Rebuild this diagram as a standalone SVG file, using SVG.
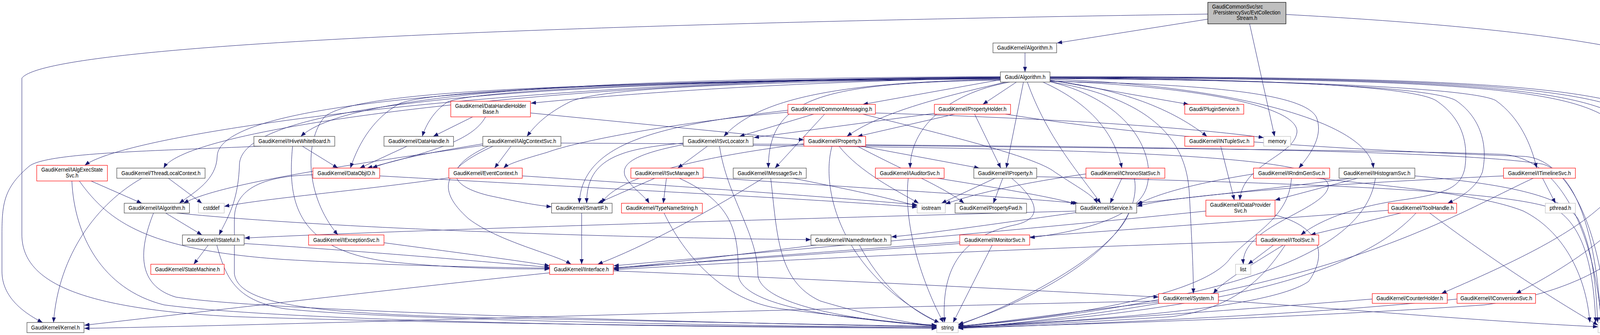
<svg xmlns="http://www.w3.org/2000/svg" width="4380" height="857" viewBox="0 0 4380 857">
<style>
.n rect{fill:#ffffff;stroke:#404040;stroke-width:1.2}
.r rect{stroke:#ff0000}
.g rect{stroke:#bfbfbf}
text{font-family:"Liberation Sans",Arial,Helvetica,sans-serif;font-size:15px;text-anchor:middle;fill:#000000}
#edges path{fill:none;stroke:#191970;stroke-width:1;marker-end:url(#a)}
</style>
<defs>
<marker id="a" viewBox="0 0 13 10" refX="13" refY="5" markerWidth="13" markerHeight="10" markerUnits="userSpaceOnUse" orient="auto"><path d="M0,0 L13,5 L0,10 Z" fill="#191970"/></marker>
</defs>
<rect width="4380" height="857" fill="#ffffff"/>
<g id="edges">
<path d="M3092,49 L2706,110"/>
<path d="M3199,61 L3263,349"/>
<path d="M3092,36 C1500,60 120,110 56,200 L56,600 C56,720 200,790 600,810 C1200,830 2000,836 2398,838"/>
<path d="M3292,37 C3900,70 4374,130 4374,230 L4374,700 C4374,790 4250,825 4151,836"/>
<path d="M2624,135 L2624,184"/>
<path d="M2561,198 C1389,198 337,333 217,423"/>
<path d="M2561,199 C1490,199 479,320 419,430"/>
<path d="M2561,200 C1300,205 560,260 556,400 C554,460 500,490 459,520"/>
<path d="M2561,201 C1300,207 620,270 613,420 C610,520 580,560 561,601"/>
<path d="M2561,196 C1600,200 900,230 770,349"/>
<path d="M2561,197 C1700,205 1100,230 1023,265 C960,300 920,360 897,430"/>
<path d="M2561,198 C1800,205 1200,230 1144,262 C1110,285 1090,320 1081,349"/>
<path d="M2561,199 C2000,210 1600,240 1359,264"/>
<path d="M2561,200 C2000,210 1550,220 1460,260 C1400,290 1370,320 1349,349"/>
<path d="M2561,202 C1500,210 900,230 830,300 C780,360 780,500 865,601"/>
<path d="M2561,203 C2200,210 1950,240 1853,349"/>
<path d="M2561,204 L2209,267"/>
<path d="M2561,205 C2100,212 1967,250 1967,430"/>
<path d="M2575,210 C2400,250 2250,290 2168,349"/>
<path d="M2602,210 L2516,267"/>
<path d="M2585,210 C2420,240 2330,330 2330,430"/>
<path d="M2620,210 L2576,430"/>
<path d="M2630,210 C2680,350 2760,440 2818,520"/>
<path d="M2670,210 C2780,260 2850,330 2872,430"/>
<path d="M2688,205 L3043,267"/>
<path d="M2688,206 C2850,225 2990,270 3090,349"/>
<path d="M2688,207 C3050,220 3330,270 3320,340 C3310,400 3180,420 3174,512"/>
<path d="M2688,208 C3100,215 3340,240 3370,300 C3390,350 3350,400 3325,430"/>
<path d="M2688,203 C3100,215 3500,300 3516,430"/>
<path d="M2688,201 C3400,205 3780,230 3829,257 C3890,300 3920,370 3934,430"/>
<path d="M2688,200 C3400,205 3680,230 3727,257 C3790,300 3810,370 3795,440 C3780,480 3740,505 3706,520"/>
<path d="M2688,199 C3400,203 3630,230 3676,257 C3740,300 3760,360 3750,430 C3740,480 3700,495 3600,510 C3450,530 3370,570 3330,601"/>
<path d="M2688,209 C3000,260 3040,400 3045,500 C3050,600 3055,680 3055,751"/>
<path d="M2688,199 C3900,202 4168,230 4170,400 C4172,540 3900,660 3690,751"/>
<path d="M2688,198 C3950,200 4222,230 4222,420 C4222,560 4000,690 3881,751"/>
<path d="M2688,197 C4000,199 4273,230 4273,420 C4273,600 4100,740 3800,780 C3300,815 2700,832 2453,838"/>
<path d="M2688,196 C4050,197 4324,230 4324,430 L4324,720 C4324,790 4230,825 4151,833"/>
<path d="M2688,209 C2900,260 2960,400 2935,480 C2910,560 2750,595 2636,608"/>
<path d="M2083,292 L1893,349"/>
<path d="M2111,292 L1984,430"/>
<path d="M2017,287 C1750,310 1480,360 1400,390 C1330,410 1300,420 1289,430"/>
<path d="M2241,289 C2600,300 3000,320 3235,352"/>
<path d="M2209,292 C2400,340 2650,400 2700,440 C2760,480 2800,500 2809,520"/>
<path d="M2017,282 C1700,320 1490,360 1483,520"/>
<path d="M2392,290 L1930,352"/>
<path d="M2444,292 L2195,349"/>
<path d="M2495,292 L2562,430"/>
<path d="M2574,292 C3000,360 3500,385 3900,400 C4020,405 4100,600 4112,825"/>
<path d="M2205,374 L2507,430"/>
<path d="M2195,374 C2300,430 2420,480 2468,520"/>
<path d="M2130,374 C2100,480 2150,700 2405,826"/>
<path d="M2148,374 C2200,440 2300,490 2352,520"/>
<path d="M2058,368 C1800,400 1580,450 1540,520"/>
<path d="M2216,372 C3000,380 3600,385 3850,395 C4000,410 4080,600 4100,825"/>
<path d="M1811,374 L1735,430"/>
<path d="M1749,366 C1600,380 1500,400 1502,520"/>
<path d="M1749,370 C1620,395 1590,420 1600,450 C1615,480 1650,500 1662,520"/>
<path d="M1842,374 C1860,500 1940,600 1940,700 C1940,790 2250,825 2398,834"/>
<path d="M1928,372 C2900,382 3420,400 3400,480 C3385,540 3175,580 3183,676"/>
<path d="M1308,374 L1266,430"/>
<path d="M1236,368 C1100,390 1000,410 953,430"/>
<path d="M1250,374 C1150,420 1130,470 1250,500 C1320,515 1370,525 1412,529"/>
<path d="M1262,374 C1140,430 1110,480 1200,560 C1280,620 1420,650 1462,676"/>
<path d="M1436,366 C2600,372 3700,378 3950,420 C4050,450 4090,650 4098,825"/>
<path d="M1236,372 C900,420 560,470 470,520"/>
<path d="M801,447 C700,450 600,470 600,560 L600,700 C610,780 800,800 1200,812 C1800,824 2200,832 2398,835"/>
<path d="M972,450 C1500,480 2100,510 2348,530"/>
<path d="M1042,374 L921,430"/>
<path d="M1210,299 L1109,349"/>
<path d="M1243,299 C1210,360 1100,390 940,430"/>
<path d="M1358,289 L2058,358"/>
<path d="M774,374 L865,430"/>
<path d="M668,374 C400,386 120,390 75,425 C10,480 5,520 5,600 L5,694 C5,760 60,800 109,825"/>
<path d="M749,374 C735,520 760,640 1000,670 C1200,690 1350,688 1407,688"/>
<path d="M363,456 C250,520 150,650 137,825"/>
<path d="M431,456 L517,520"/>
<path d="M233,463 L363,520"/>
<path d="M184,463 C190,600 260,740 420,780 C800,830 2000,838 2398,840"/>
<path d="M203,463 C280,570 380,640 730,664 C1000,680 1300,685 1407,686"/>
<path d="M424,545 L517,601"/>
<path d="M393,545 C355,640 350,730 450,760 C700,800 2000,830 2398,836"/>
<path d="M452,545 C900,590 1700,610 2076,613"/>
<path d="M533,627 L496,676"/>
<path d="M625,623 C900,640 1250,670 1407,684"/>
<path d="M555,627 C580,720 610,770 730,790 C1000,820 2000,835 2398,838"/>
<path d="M2754,540 C2000,560 1000,590 626,609"/>
<path d="M2754,544 C2600,565 2400,595 2282,606"/>
<path d="M2890,545 C2850,650 2600,780 2453,832"/>
<path d="M2090,627 C1900,650 1700,675 1571,686"/>
<path d="M2200,627 C2250,720 2320,790 2405,826"/>
<path d="M1570,693 C2000,710 2600,740 2966,760"/>
<path d="M1407,698 C1000,740 500,800 216,832"/>
<path d="M2966,770 C2000,790 800,830 216,840"/>
<path d="M2966,773 C2800,790 2600,820 2453,835"/>
<path d="M3119,768 C3500,795 3800,822 4091,836"/>
<path d="M1489,545 L1489,676"/>
<path d="M1700,545 C1750,650 1850,770 2000,790 C2200,815 2350,830 2398,834"/>
<path d="M1676,456 L1530,520"/>
<path d="M1706,456 L1698,520"/>
<path d="M1739,456 C1880,520 1890,600 1890,700 C1890,790 2200,820 2398,832"/>
<path d="M1797,453 C2200,480 2600,505 2760,520"/>
<path d="M1953,456 C1800,550 1650,630 1530,676"/>
<path d="M1973,456 C1990,600 1990,720 2100,770 C2250,815 2350,830 2398,833"/>
<path d="M2030,456 C2150,480 2250,500 2348,527"/>
<path d="M1149,455 C900,490 700,505 574,528"/>
<path d="M1337,450 C1800,480 2200,510 2348,524"/>
<path d="M983,621 C1200,650 1350,670 1407,680"/>
<path d="M2400,456 C2550,480 2700,505 2754,522"/>
<path d="M2325,456 C2310,600 2380,760 2415,825"/>
<path d="M2547,456 L2410,520"/>
<path d="M2567,456 L2543,520"/>
<path d="M2590,456 C2665,520 2665,560 2600,575 C2450,605 2410,700 2418,825"/>
<path d="M2654,452 C3400,470 3900,490 3990,540 C4060,590 4080,700 4085,825"/>
<path d="M2872,456 L2842,520"/>
<path d="M2780,445 C2600,470 2480,500 2420,522"/>
<path d="M2904,456 C2930,600 2700,750 2453,830"/>
<path d="M3209,445 C3050,470 2950,500 2911,524"/>
<path d="M3306,456 C3300,560 3200,600 3150,660 C3080,760 2700,815 2453,834"/>
<path d="M3370,456 C3600,480 3800,500 3900,540 C4000,590 4060,700 4070,825"/>
<path d="M3475,456 L3264,512"/>
<path d="M3460,456 C3200,490 3000,510 2911,520"/>
<path d="M3521,456 C3500,600 3300,760 2453,836"/>
<path d="M3622,450 C3850,470 4000,500 4040,560 C4070,620 4085,700 4090,825"/>
<path d="M3125,374 L3160,512"/>
<path d="M3087,540 C2600,590 1900,650 1571,680"/>
<path d="M3264,550 C3380,580 3400,650 3350,720 C3250,790 2800,820 2453,836"/>
<path d="M3586,545 L3355,601"/>
<path d="M3625,545 C3500,680 3200,790 2453,838"/>
<path d="M3660,545 C3800,650 3950,750 4091,832"/>
<path d="M3554,538 C3000,580 2000,650 1571,688"/>
<path d="M3260,627 L3195,676"/>
<path d="M3285,627 C3200,680 3130,720 3106,751"/>
<path d="M3290,627 C3230,720 3150,790 3000,810 C2700,830 2500,835 2453,836"/>
<path d="M3216,617 C2500,640 1900,670 1571,690"/>
<path d="M3949,456 L3982,520"/>
<path d="M3925,456 C3700,560 3400,760 2453,840"/>
<path d="M3849,450 C3400,470 3000,500 2911,528"/>
<path d="M3513,765 C3200,790 2800,820 2453,838"/>
<path d="M3730,765 C3400,800 2900,825 2453,840"/>
<path d="M2540,627 L2440,825"/>
<path d="M2457,623 C2100,650 1800,670 1571,685"/>
</g>
<g id="root" class="n"><rect x="3092" y="6" width="200" height="55" style="fill:#bfbfbf;stroke:#000000"/><text x="3103" y="21.5" style="text-anchor:start" textLength="130" lengthAdjust="spacingAndGlyphs">GaudiCommonSvc/src</text><text x="3192" y="36.5" textLength="172" lengthAdjust="spacingAndGlyphs">/PersistencySvc/EvtCollection</text><text x="3192" y="50.5" textLength="53" lengthAdjust="spacingAndGlyphs">Stream.h</text></g>
<g id="alg" class="n"><rect x="2542" y="110" width="163" height="25"/><text x="2623.5" y="127" textLength="141.6" lengthAdjust="spacingAndGlyphs">GaudiKernel/Algorithm.h</text></g>
<g id="galg" class="n"><rect x="2561" y="184" width="127" height="26"/><text x="2624.5" y="201.5" textLength="104" lengthAdjust="spacingAndGlyphs">Gaudi/Algorithm.h</text></g>
<g id="dhhb" class="n r"><rect x="1154" y="259" width="204" height="40"/><text x="1256" y="275.5" textLength="181.5" lengthAdjust="spacingAndGlyphs">GaudiKernel/DataHandleHolder</text><text x="1256" y="290.5" textLength="40.5" lengthAdjust="spacingAndGlyphs">Base.h</text></g>
<g id="cmsg" class="n r"><rect x="2017" y="267" width="224" height="25"/><text x="2129" y="284" textLength="207.5" lengthAdjust="spacingAndGlyphs">GaudiKernel/CommonMessaging.h</text></g>
<g id="phold" class="n r"><rect x="2392" y="267" width="195" height="25"/><text x="2489.5" y="284" textLength="174" lengthAdjust="spacingAndGlyphs">GaudiKernel/PropertyHolder.h</text></g>
<g id="plugin" class="n r"><rect x="3033" y="267" width="151" height="25"/><text x="3108.5" y="284" textLength="128.6" lengthAdjust="spacingAndGlyphs">Gaudi/PluginService.h</text></g>
<g id="hive" class="n"><rect x="650" y="349" width="207" height="25"/><text x="753.5" y="366" textLength="184" lengthAdjust="spacingAndGlyphs">GaudiKernel/IHiveWhiteBoard.h</text></g>
<g id="dhandle" class="n"><rect x="983" y="349" width="178" height="25"/><text x="1072" y="366" textLength="155.4" lengthAdjust="spacingAndGlyphs">GaudiKernel/DataHandle.h</text></g>
<g id="algctx" class="n"><rect x="1236" y="349" width="200" height="25"/><text x="1336" y="366" textLength="175.6" lengthAdjust="spacingAndGlyphs">GaudiKernel/IAlgContextSvc.h</text></g>
<g id="svcloc" class="n"><rect x="1749" y="349" width="179" height="25"/><text x="1838.5" y="366" textLength="155.4" lengthAdjust="spacingAndGlyphs">GaudiKernel/ISvcLocator.h</text></g>
<g id="prop" class="n r"><rect x="2058" y="349" width="158" height="25"/><text x="2137" y="366" textLength="135.8" lengthAdjust="spacingAndGlyphs">GaudiKernel/Property.h</text></g>
<g id="ntuple" class="n r"><rect x="3033" y="349" width="177" height="25"/><text x="3121.5" y="366" textLength="153.9" lengthAdjust="spacingAndGlyphs">GaudiKernel/INTupleSvc.h</text></g>
<g id="memory" class="n g"><rect x="3235" y="349" width="69" height="25"/><text x="3269.5" y="366" textLength="46.9" lengthAdjust="spacingAndGlyphs">memory</text></g>
<g id="execst" class="n r"><rect x="94" y="423" width="181" height="40"/><text x="184.5" y="439" textLength="157.5" lengthAdjust="spacingAndGlyphs">GaudiKernel/IAlgExecState</text><text x="184.5" y="454" textLength="32.5" lengthAdjust="spacingAndGlyphs">Svc.h</text></g>
<g id="tlc" class="n"><rect x="299" y="430" width="226" height="26"/><text x="412" y="447.5" textLength="202.4" lengthAdjust="spacingAndGlyphs">GaudiKernel/ThreadLocalContext.h</text></g>
<g id="dobj" class="n r"><rect x="801" y="430" width="171" height="26"/><text x="886.5" y="447.5" textLength="147.4" lengthAdjust="spacingAndGlyphs">GaudiKernel/DataObjID.h</text></g>
<g id="evctx" class="n r"><rect x="1149" y="430" width="188" height="26"/><text x="1243" y="447.5" textLength="164.7" lengthAdjust="spacingAndGlyphs">GaudiKernel/EventContext.h</text></g>
<g id="svcmgr" class="n r"><rect x="1615" y="430" width="185" height="26"/><text x="1707.5" y="447.5" textLength="163.3" lengthAdjust="spacingAndGlyphs">GaudiKernel/ISvcManager.h</text></g>
<g id="msgsvc" class="n"><rect x="1877" y="430" width="187" height="26"/><text x="1970.5" y="447.5" textLength="164.7" lengthAdjust="spacingAndGlyphs">GaudiKernel/IMessageSvc.h</text></g>
<g id="audit" class="n r"><rect x="2241" y="430" width="176" height="26"/><text x="2329" y="447.5" textLength="153.2" lengthAdjust="spacingAndGlyphs">GaudiKernel/IAuditorSvc.h</text></g>
<g id="iprop" class="n"><rect x="2493" y="430" width="161" height="26"/><text x="2573.5" y="447.5" textLength="139.5" lengthAdjust="spacingAndGlyphs">GaudiKernel/IProperty.h</text></g>
<g id="chrono" class="n r"><rect x="2780" y="430" width="202" height="26"/><text x="2881" y="447.5" textLength="177.7" lengthAdjust="spacingAndGlyphs">GaudiKernel/IChronoStatSvc.h</text></g>
<g id="rndm" class="n r"><rect x="3209" y="430" width="195" height="26"/><text x="3306.5" y="447.5" textLength="171.2" lengthAdjust="spacingAndGlyphs">GaudiKernel/IRndmGenSvc.h</text></g>
<g id="histo" class="n"><rect x="3428" y="430" width="194" height="26"/><text x="3525" y="447.5" textLength="171.2" lengthAdjust="spacingAndGlyphs">GaudiKernel/IHistogramSvc.h</text></g>
<g id="timeline" class="n r"><rect x="3849" y="430" width="184" height="26"/><text x="3941" y="447.5" textLength="161.1" lengthAdjust="spacingAndGlyphs">GaudiKernel/ITimelineSvc.h</text></g>
<g id="ialg" class="n"><rect x="318" y="520" width="167" height="25"/><text x="401.5" y="537" textLength="145.2" lengthAdjust="spacingAndGlyphs">GaudiKernel/IAlgorithm.h</text></g>
<g id="cstddef" class="n g"><rect x="508" y="520" width="66" height="25"/><text x="541" y="537" textLength="41.9" lengthAdjust="spacingAndGlyphs">cstddef</text></g>
<g id="smartif" class="n"><rect x="1412" y="520" width="155" height="25"/><text x="1489.5" y="537" textLength="132.9" lengthAdjust="spacingAndGlyphs">GaudiKernel/SmartIF.h</text></g>
<g id="tns" class="n r"><rect x="1591" y="520" width="207" height="25"/><text x="1694.5" y="537" textLength="184.2" lengthAdjust="spacingAndGlyphs">GaudiKernel/TypeNameString.h</text></g>
<g id="iostream" class="n g"><rect x="2348" y="520" width="72" height="25"/><text x="2384" y="537" textLength="49.8" lengthAdjust="spacingAndGlyphs">iostream</text></g>
<g id="propfwd" class="n"><rect x="2445" y="520" width="183" height="25"/><text x="2536.5" y="537" textLength="160.4" lengthAdjust="spacingAndGlyphs">GaudiKernel/PropertyFwd.h</text></g>
<g id="isvc" class="n"><rect x="2754" y="520" width="156" height="25"/><text x="2832" y="537" textLength="133.7" lengthAdjust="spacingAndGlyphs">GaudiKernel/IService.h</text></g>
<g id="dps" class="n r"><rect x="3087" y="512" width="177" height="41"/><text x="3175.5" y="529" textLength="155.3" lengthAdjust="spacingAndGlyphs">GaudiKernel/IDataProvider</text><text x="3175.5" y="543.5" textLength="32.5" lengthAdjust="spacingAndGlyphs">Svc.h</text></g>
<g id="toolh" class="n r"><rect x="3554" y="520" width="175" height="25"/><text x="3641.5" y="537" textLength="160.4" lengthAdjust="spacingAndGlyphs">GaudiKernel/ToolHandle.h</text></g>
<g id="pthread" class="n g"><rect x="3956" y="520" width="77" height="25"/><text x="3994.5" y="537" textLength="54.9" lengthAdjust="spacingAndGlyphs">pthread.h</text></g>
<g id="istate" class="n"><rect x="467" y="601" width="158" height="26"/><text x="546" y="618.5" textLength="134.4" lengthAdjust="spacingAndGlyphs">GaudiKernel/IStateful.h</text></g>
<g id="iexc" class="n r"><rect x="790" y="601" width="193" height="26"/><text x="886.5" y="618.5" textLength="169.1" lengthAdjust="spacingAndGlyphs">GaudiKernel/IExceptionSvc.h</text></g>
<g id="inamed" class="n"><rect x="2076" y="601" width="205" height="26"/><text x="2178.5" y="618.5" textLength="182.8" lengthAdjust="spacingAndGlyphs">GaudiKernel/INamedInterface.h</text></g>
<g id="imon" class="n r"><rect x="2457" y="601" width="179" height="26"/><text x="2546.5" y="618.5" textLength="155.4" lengthAdjust="spacingAndGlyphs">GaudiKernel/IMonitorSvc.h</text></g>
<g id="itool" class="n r"><rect x="3216" y="601" width="160" height="26"/><text x="3296" y="618.5" textLength="137.3" lengthAdjust="spacingAndGlyphs">GaudiKernel/IToolSvc.h</text></g>
<g id="sm" class="n r"><rect x="386" y="676" width="188" height="26"/><text x="480" y="693.5" textLength="166.2" lengthAdjust="spacingAndGlyphs">GaudiKernel/StateMachine.h</text></g>
<g id="iif" class="n r"><rect x="1407" y="676" width="163" height="26"/><text x="1488.5" y="693.5" textLength="140.9" lengthAdjust="spacingAndGlyphs">GaudiKernel/IInterface.h</text></g>
<g id="list" class="n g"><rect x="3163" y="676" width="39" height="26"/><text x="3182.5" y="693.5" textLength="15.9" lengthAdjust="spacingAndGlyphs">list</text></g>
<g id="system" class="n r"><rect x="2966" y="751" width="153" height="25"/><text x="3042.5" y="768" textLength="130" lengthAdjust="spacingAndGlyphs">GaudiKernel/System.h</text></g>
<g id="counter" class="n r"><rect x="3513" y="751" width="192" height="25"/><text x="3609" y="768" textLength="170.5" lengthAdjust="spacingAndGlyphs">GaudiKernel/CounterHolder.h</text></g>
<g id="iconv" class="n r"><rect x="3730" y="751" width="201" height="25"/><text x="3830.5" y="768" textLength="184.2" lengthAdjust="spacingAndGlyphs">GaudiKernel/IConversionSvc.h</text></g>
<g id="kernel" class="n"><rect x="69" y="825" width="146" height="26"/><text x="142" y="842.5" textLength="124.3" lengthAdjust="spacingAndGlyphs">GaudiKernel/Kernel.h</text></g>
<g id="string" class="n g"><rect x="2398" y="825" width="55" height="26"/><text x="2425.5" y="842.5" textLength="31.8" lengthAdjust="spacingAndGlyphs">string</text></g>
<g id="vector" class="n g"><rect x="4091" y="825" width="59" height="26"/><text x="4120.5" y="842.5" textLength="35.4" lengthAdjust="spacingAndGlyphs">vector</text></g>
</svg>
